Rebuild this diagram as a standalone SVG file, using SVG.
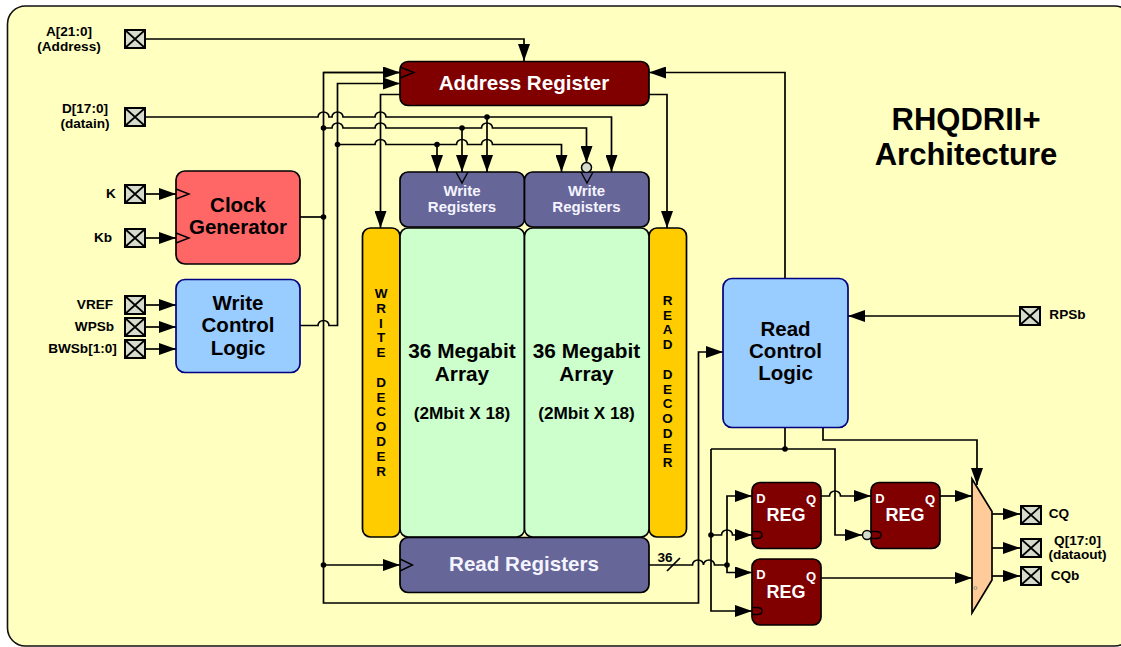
<svg xmlns="http://www.w3.org/2000/svg" width="1121" height="647" viewBox="0 0 1121 647">
<style>
text{font-family:"Liberation Sans",Arial,sans-serif;font-weight:bold;text-anchor:middle;fill:#000}
.w{fill:none;stroke:#000;stroke-width:1.7;stroke-linejoin:miter}
.a{marker-end:url(#ah)}
.b{stroke:#000;stroke-width:1.7}
.pb{fill:#d6dccb;stroke:#000;stroke-width:2}
.px{fill:none;stroke:#000;stroke-width:1.7}
.lt{fill:#f4f4ff}
.wt{fill:#fff}
.lab{font-size:13.6px}
.big{font-size:20.5px}
.wr{font-size:15px}
.arr{font-size:20.8px}
.sub{font-size:17.2px}
.hd{font-size:20.6px}
.dec{font-size:13.5px}
.reg{font-size:18px}
.dq{font-size:13px}
.tt{font-size:31px}
.dot{fill:#000}
.ck{fill:none;stroke:#000;stroke-width:1.4}
</style>
<defs>
<marker id="ah" markerUnits="userSpaceOnUse" markerWidth="18" markerHeight="12" refX="17" refY="6" orient="auto"><path d="M0 0L17 6L0 12Z" fill="#000"/></marker>
<g id="padx"><rect class="pb" x="-10" y="-9" width="20" height="18"/><path class="px" d="M-10-9L10 9M10-9L-10 9"/></g>
</defs>
<rect x="7.500" y="6" width="1125" height="640" rx="18" fill="#ffffc0" stroke="#111" stroke-width="1.600"/>

<g id="connectors">
<path class="w a" d="M145 39H524V61"/>
<path class="w a" d="M145 117H318a5.500 5 0 0 1 11 0H332a5.500 5 0 0 1 11 0H375a5.500 5 0 0 1 11 0H611.500V172"/>
<path class="w a" d="M487 117V172"/>
<path class="w a" d="M324 128H332a5.500 5 0 0 1 11 0H375a5.500 5 0 0 1 11 0H481.500a5.500 5 0 0 1 11 0H586.500V163"/>
<path class="w a" d="M462 128V172"/>
<path class="w a" d="M337.500 144.500H375a5.500 5 0 0 1 11 0H456.500a5.500 5 0 0 1 11 0H481.500a5.500 5 0 0 1 11 0H561.500V172"/>
<path class="w a" d="M437 144.500V172"/>
<path class="w a" d="M400 72.500H323.500V603H698.500V352H723"/>
<path class="w a" d="M300 325.500H318a5.500 5 0 0 1 11 0H337.500V83.500H400"/>
<path class="w a" d="M323.500 72.500H400"/>
<path class="w" d="M300 217H323.500"/>
<path class="w a" d="M323.500 565H400"/>
<path class="w a" d="M400 94.500H380.500V228"/>
<path class="w a" d="M649 94.500H667V228"/>
<path class="w a" d="M785 278V72.500H649"/>
<path class="w a" d="M1020 316H848"/>
<path class="w a" d="M145 194H176"/>
<path class="w a" d="M145 238H176"/>
<path class="w a" d="M145 305H176"/>
<path class="w a" d="M145 327H176"/>
<path class="w a" d="M145 349H176"/>
<path class="w" d="M785 427V449"/>
<path class="w a" d="M711 449V611H752"/>
<path class="w a" d="M711 449H835V535H862"/>
<path class="w a" d="M711 535H721.500a5.500 5 0 0 1 11 0H752"/>
<path class="w a" d="M649 565H692.500a5.500 5 0 0 1 11 0a5.500 5 0 0 1 11 0H727V496H752"/>
<path class="w a" d="M727 565V572.500H752"/>
<path class="w" d="M667 571L680 558"/>
<path class="w a" d="M821 496H829.500a5.500 5 0 0 1 11 0H871"/>
<path class="w a" d="M940 496H972"/>
<path class="w a" d="M821 578H972"/>
<path class="w a" d="M823 427V440H977V485"/>
<path class="w a" d="M992 514H1020"/>
<path class="w a" d="M992 548H1020"/>
<path class="w a" d="M992 576H1020"/>
<g class="dot">
<circle cx="323.500" cy="128" r="2.800"/><circle cx="337.500" cy="144.500" r="2.800"/><circle cx="487" cy="117" r="2.800"/><circle cx="462" cy="128" r="2.800"/><circle cx="437" cy="144.500" r="2.800"/><circle cx="323.500" cy="217" r="2.800"/><circle cx="323.500" cy="565" r="2.800"/><circle cx="785" cy="449" r="2.800"/><circle cx="711" cy="535" r="2.800"/><circle cx="727" cy="565" r="2.800"/>
</g>
</g>

<g id="pad-a"><use href="#padx" x="135" y="39"/><text class="lab" x="69" y="36">A[21:0]</text><text class="lab" x="69" y="51">(Address)</text></g>
<g id="pad-d"><use href="#padx" x="135" y="117"/><text class="lab" x="85" y="113">D[17:0]</text><text class="lab" x="85" y="128">(datain)</text></g>
<g id="pad-k"><use href="#padx" x="135" y="194"/><text class="lab" x="111" y="198">K</text></g>
<g id="pad-kb"><use href="#padx" x="135" y="238"/><text class="lab" x="103" y="242">Kb</text></g>
<g id="pad-vref"><use href="#padx" x="135" y="305"/><text class="lab" x="95" y="309">VREF</text></g>
<g id="pad-wpsb"><use href="#padx" x="135" y="327"/><text class="lab" x="94.500" y="331">WPSb</text></g>
<g id="pad-bwsb"><use href="#padx" x="135" y="349"/><text class="lab" x="82.500" y="353">BWSb[1:0]</text></g>
<g id="pad-rpsb"><use href="#padx" x="1030" y="316"/><text class="lab" x="1067.500" y="319">RPSb</text></g>
<g id="pad-cq"><use href="#padx" x="1031" y="515"/><text class="lab" x="1059" y="518">CQ</text></g>
<g id="pad-q"><use href="#padx" x="1031" y="548"/><text class="lab" x="1077.500" y="545">Q[17:0]</text><text class="lab" x="1077.500" y="559">(dataout)</text></g>
<g id="pad-cqb"><use href="#padx" x="1031" y="576"/><text class="lab" x="1065" y="580">CQb</text></g>

<g id="address-register"><rect x="400" y="61.500" width="249" height="44" rx="8" fill="#800000" class="b"/><path class="ck" d="M400 67L414 72.500L400 78"/><text class="wt hd" x="524" y="90">Address Register</text></g>
<g id="clock-generator"><rect x="176" y="171" width="124" height="93" rx="9" fill="#ff6666" class="b"/><path class="ck" d="M176 189L189 194L176 199M176 233L189 238L176 243"/><text class="big" x="238" y="212">Clock</text><text class="big" x="238" y="234">Generator</text></g>
<g id="write-control-logic"><rect x="176" y="279.500" width="124" height="93" rx="9" fill="#99ccff" stroke="#000080" stroke-width="1.700"/><text class="big" x="238" y="310">Write</text><text class="big" x="238" y="332">Control</text><text class="big" x="238" y="355">Logic</text></g>
<g id="write-decoder"><rect x="362.500" y="228" width="37.500" height="309" rx="8" fill="#ffcc00" class="b"/>
<text class="dec"><tspan x="381" y="298">W</tspan><tspan x="381" y="312.800">R</tspan><tspan x="381" y="327.600">I</tspan><tspan x="381" y="342.400">T</tspan><tspan x="381" y="357.200">E</tspan><tspan x="381" y="386.800">D</tspan><tspan x="381" y="401.600">E</tspan><tspan x="381" y="416.400">C</tspan><tspan x="381" y="431.200">O</tspan><tspan x="381" y="446">D</tspan><tspan x="381" y="460.800">E</tspan><tspan x="381" y="475.600">R</tspan></text></g>
<g id="read-decoder"><rect x="649" y="228" width="37.500" height="309" rx="8" fill="#ffcc00" class="b"/>
<text class="dec"><tspan x="667.500" y="305">R</tspan><tspan x="667.500" y="319.700">E</tspan><tspan x="667.500" y="334.400">A</tspan><tspan x="667.500" y="349.100">D</tspan><tspan x="667.500" y="379">D</tspan><tspan x="667.500" y="393.700">E</tspan><tspan x="667.500" y="408.400">C</tspan><tspan x="667.500" y="423.100">O</tspan><tspan x="667.500" y="437.800">D</tspan><tspan x="667.500" y="452.500">E</tspan><tspan x="667.500" y="467.200">R</tspan></text></g>
<g id="write-registers-1"><rect x="400" y="172" width="124.500" height="55" rx="8" fill="#666699" class="b"/><path class="ck" d="M456 172L462 183L468 172"/><text class="lt wr" x="462" y="196">Write</text><text class="lt wr" x="462" y="212">Registers</text></g>
<g id="write-registers-2"><rect x="524.500" y="172" width="124.500" height="55" rx="8" fill="#666699" class="b"/><path class="ck" d="M581 172L587 183L593 172"/><circle cx="586.500" cy="167.500" r="5" fill="#d6dccb" stroke="#000" stroke-width="1.500"/><text class="lt wr" x="586.500" y="196">Write</text><text class="lt wr" x="586.500" y="212">Registers</text></g>
<g id="array-1"><rect x="400" y="228" width="124.500" height="309" rx="8" fill="#ccffcc" class="b"/><text class="arr" x="462" y="358">36 Megabit</text><text class="arr" x="462" y="381">Array</text><text class="sub" x="462" y="419">(2Mbit X 18)</text></g>
<g id="array-2"><rect x="524.500" y="228" width="124.500" height="309" rx="8" fill="#ccffcc" class="b"/><text class="arr" x="586.500" y="358">36 Megabit</text><text class="arr" x="586.500" y="381">Array</text><text class="sub" x="586.500" y="419">(2Mbit X 18)</text></g>
<g id="read-registers"><rect x="400" y="537.500" width="249" height="55" rx="8" fill="#666699" class="b"/><path class="ck" d="M400 559L412.500 565L400 571"/><text class="lt hd" x="524" y="571">Read Registers</text></g>
<text class="lab" x="665" y="562">36</text>
<g id="read-control-logic"><rect x="723" y="278.500" width="125" height="149" rx="9" fill="#99ccff" stroke="#000080" stroke-width="1.700"/><text class="big" x="785.500" y="336">Read</text><text class="big" x="785.500" y="358">Control</text><text class="big" x="785.500" y="380">Logic</text></g>
<g id="reg-1"><rect x="752" y="482.500" width="69" height="66" rx="8" fill="#800000" class="b"/><path d="M752 531.500H757Q762 531.500 762 535T757 538.500H752" class="ck"/><text class="wt dq" x="761" y="503">D</text><text class="wt dq" x="811" y="504">Q</text><text class="wt reg" x="786" y="521">REG</text></g>
<g id="reg-2"><rect x="871" y="482.500" width="69" height="66" rx="8" fill="#800000" class="b"/><path d="M871 531.500H876Q881 531.500 881 535T876 538.500H871" class="ck"/><circle cx="867" cy="535" r="4.500" fill="#d6dccb" stroke="#000" stroke-width="1.400"/><text class="wt dq" x="880" y="503">D</text><text class="wt dq" x="930" y="504">Q</text><text class="wt reg" x="905" y="521">REG</text></g>
<g id="reg-3"><rect x="752" y="559" width="69" height="66" rx="8" fill="#800000" class="b"/><path d="M752 607.500H757Q762 607.500 762 611T757 614.500H752" class="ck"/><text class="wt dq" x="761" y="579">D</text><text class="wt dq" x="811" y="581">Q</text><text class="wt reg" x="786" y="598">REG</text></g>
<g id="mux"><path d="M972 479L992 511.500V580L972 613Z" fill="#ffcc99" class="b"/><circle cx="975.500" cy="588" r="1.500" fill="none" stroke="#777" stroke-width="0.700"/></g>
<g id="title"><text class="tt" x="966" y="130">RHQDRII+</text><text class="tt" x="966" y="165">Architecture</text></g>
</svg>
